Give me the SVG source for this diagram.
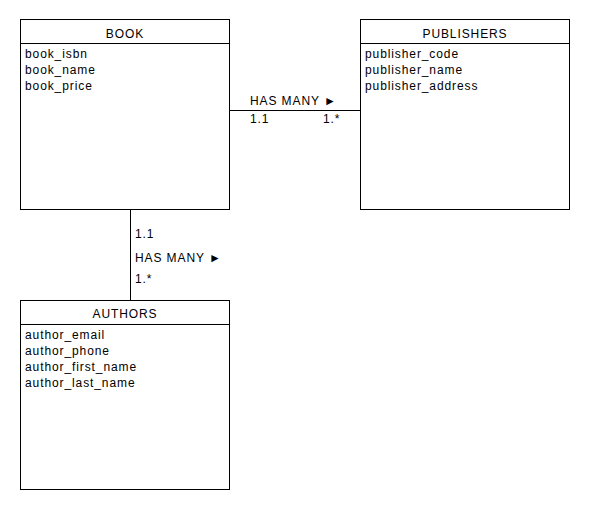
<svg xmlns="http://www.w3.org/2000/svg" width="590" height="510" viewBox="0 0 590 510">
<style>
.box{fill:#fff;stroke:#000;stroke-width:1}
.ln{stroke:#000;stroke-width:1;fill:none}
text{font-family:"Liberation Sans",Arial,sans-serif;font-size:12px;letter-spacing:0.9px;fill:#000}
.t{text-anchor:middle}
</style>
<rect width="590" height="510" fill="#fff"/>
<g id="connectors">
<line class="ln" x1="229.5" y1="110.5" x2="360.5" y2="110.5"/>
<text x="250" y="105">HAS MANY ►</text>
<text x="250" y="123">1.1</text>
<text x="323" y="123">1.*</text>
<line class="ln" x1="130.5" y1="209.5" x2="130.5" y2="300.5"/>
<text x="135" y="238">1.1</text>
<text x="135" y="262">HAS MANY ►</text>
<text x="135" y="283">1.*</text>
</g>
<g id="book">
<rect class="box" x="20.5" y="19.5" width="209" height="190"/>
<line class="ln" x1="20.5" y1="43.5" x2="229.5" y2="43.5"/>
<text class="t" x="125" y="37.5">BOOK</text>
<text x="25" y="58">book_isbn</text>
<text x="25" y="74">book_name</text>
<text x="25" y="90">book_price</text>
</g>
<g id="publishers">
<rect class="box" x="360.5" y="19.5" width="209" height="190"/>
<line class="ln" x1="360.5" y1="43.5" x2="569.5" y2="43.5"/>
<text class="t" x="465" y="37.5">PUBLISHERS</text>
<text x="365" y="58">publisher_code</text>
<text x="365" y="74">publisher_name</text>
<text x="365" y="90">publisher_address</text>
</g>
<g id="authors">
<rect class="box" x="20.5" y="300.5" width="209" height="189"/>
<line class="ln" x1="20.5" y1="324.5" x2="229.5" y2="324.5"/>
<text class="t" x="125" y="318">AUTHORS</text>
<text x="25" y="339">author_email</text>
<text x="25" y="355">author_phone</text>
<text x="25" y="371">author_first_name</text>
<text x="25" y="387">author_last_name</text>
</g>
</svg>
